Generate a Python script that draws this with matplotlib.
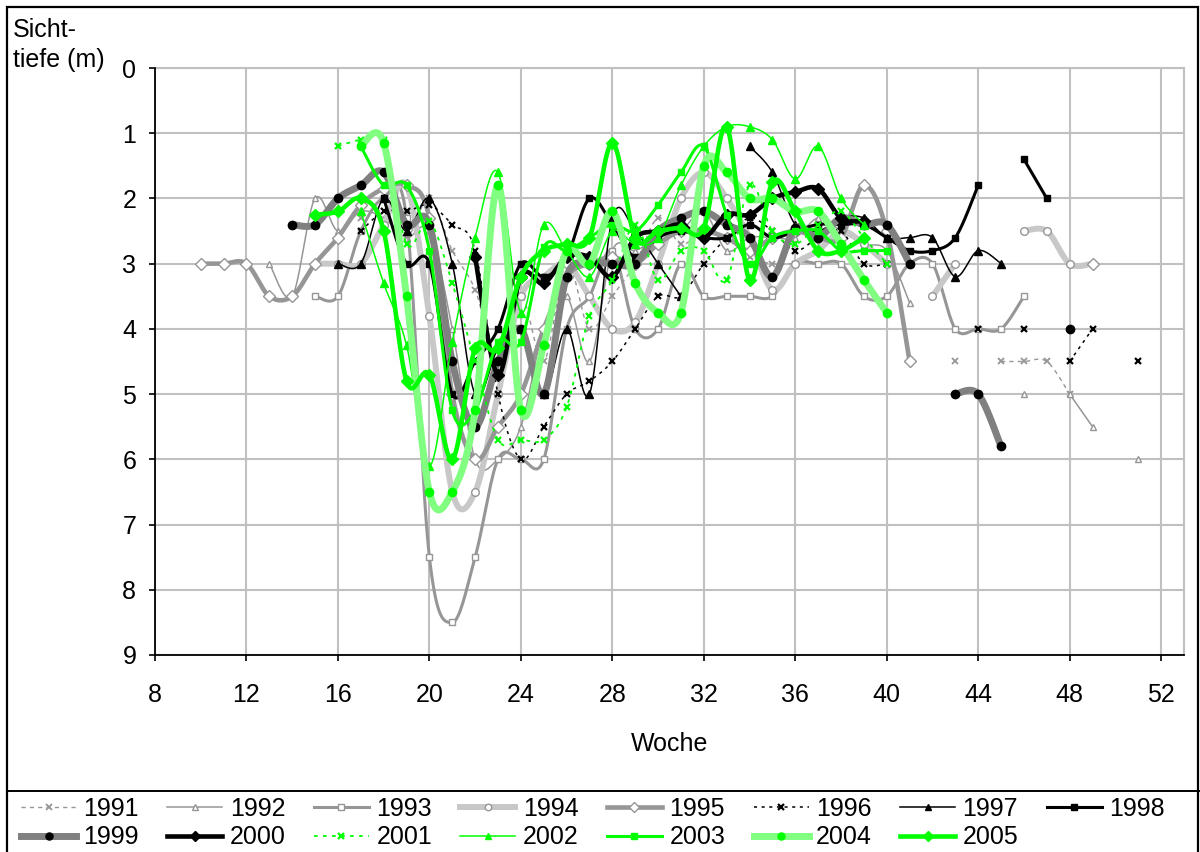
import numpy as np
import matplotlib
matplotlib.use("Agg")
import matplotlib.pyplot as plt
from matplotlib.lines import Line2D
from matplotlib.patches import Rectangle

plt.rcParams['font.family'] = ['Liberation Sans', 'DejaVu Sans']

# ---- data: week -> Sichttiefe (m) ----
d1991 = {17: 2.3, 18: 2.2, 19: 2.6, 20: 2.0, 21: 2.8, 22: 3.4, 23: 4.5, 24: 3.5, 25: 4.5, 26: 3.0,
         27: 4.0, 28: 3.5, 29: 3.0, 30: 2.3, 31: 2.7, 32: 2.5, 33: 2.6, 34: 2.9, 35: 3.0, 36: 3.0,
         43: 4.5, 45: 4.5, 46: 4.5, 47: 4.5, 48: 5.0}
d1992 = {13: 3.0, 14: 3.5, 15: 2.0, 16: 2.5, 17: 2.2, 18: 2.3, 19: 2.6, 20: 2.5, 21: 4.0, 22: 6.0,
         23: 6.0, 24: 5.5, 25: 4.0, 26: 3.5, 27: 4.5, 28: 2.8, 29: 2.8, 30: 2.6, 31: 2.5, 32: 2.2,
         33: 2.8, 34: 2.6, 35: 2.6, 36: 2.6, 37: 2.3, 38: 2.5, 39: 2.7, 40: 2.8, 41: 3.6,
         46: 5.0, 48: 5.0, 49: 5.5, 51: 6.0}
d1993 = {15: 3.5, 16: 3.5, 17: 2.5, 18: 2.0, 19: 2.3, 20: 7.5, 21: 8.5, 22: 7.5, 23: 6.0, 24: 6.0,
         25: 6.0, 26: 4.0, 27: 3.5, 28: 2.8, 29: 4.0, 30: 4.0, 31: 3.0, 32: 3.5, 33: 3.5, 34: 3.5,
         35: 3.5, 36: 3.0, 37: 3.0, 38: 3.0, 39: 3.5, 40: 3.5, 41: 3.0, 42: 3.0, 43: 4.0, 44: 4.0,
         45: 4.0, 46: 3.5}
d1994 = {15: 3.0, 16: 3.0, 17: 3.0, 18: 2.4, 19: 1.8, 20: 3.8, 21: 6.5, 22: 6.5, 23: 5.0, 24: 3.5,
         25: 3.2, 26: 3.0, 27: 3.5, 28: 4.0, 29: 3.9, 30: 3.0, 31: 2.0, 32: 1.6, 33: 2.0, 34: 2.6,
         35: 3.4, 36: 3.0, 37: 2.8, 38: 2.5, 39: 2.7, 40: 3.0,
         42: 3.5, 43: 3.0, 46: 2.5, 47: 2.5, 48: 3.0, 49: 3.0}
d1995 = {10: 3.0, 11: 3.0, 12: 3.0, 13: 3.5, 14: 3.5, 15: 3.0, 16: 2.6, 17: 2.1, 18: 1.85, 19: 1.8,
         20: 2.3, 21: 5.0, 22: 6.0, 23: 5.5, 24: 5.0, 25: 4.0, 26: 3.2, 27: 3.0, 28: 2.9, 29: 3.0,
         30: 2.7, 31: 2.5, 32: 2.5, 33: 2.6, 34: 2.8, 35: 2.6, 36: 2.5, 37: 2.6, 38: 2.6, 39: 1.8,
         40: 2.5, 41: 4.5, 49: 3.0}
d1996 = {17: 2.5, 18: 2.2, 19: 2.2, 20: 2.1, 21: 2.4, 22: 2.8, 23: 5.0, 24: 6.0, 25: 5.5, 26: 5.0,
         27: 4.8, 28: 4.5, 29: 4.0, 30: 3.5, 31: 3.5, 32: 3.0, 33: 2.6, 34: 2.3, 35: 2.5, 36: 2.8,
         37: 2.6, 38: 2.5, 39: 3.0, 40: 3.0, 44: 4.0, 46: 4.0, 48: 4.5, 49: 4.0, 51: 4.5}
d1997 = {16: 3.0, 17: 3.0, 18: 2.0, 19: 2.5, 20: 2.0, 21: 3.0, 22: 5.0, 23: 4.3, 24: 4.0, 25: 5.0,
         26: 4.0, 27: 5.0, 28: 2.3, 29: 2.5, 30: 3.0, 31: 3.5,
         34: 1.2, 35: 1.6, 36: 2.4, 37: 2.5, 38: 2.3, 39: 2.3, 40: 2.6, 41: 2.6, 42: 2.6, 43: 3.2,
         44: 2.8, 45: 3.0}
d1998 = {18: 2.0, 19: 3.0, 20: 3.0, 21: 5.0, 22: 4.5, 23: 4.0, 24: 3.0, 25: 3.2, 26: 2.9, 27: 2.0,
         28: 2.4, 29: 2.9, 30: 2.6, 31: 2.5, 32: 2.6, 33: 2.6, 34: 2.4, 35: 2.6, 36: 2.5, 37: 2.4,
         38: 2.4, 39: 2.4, 40: 2.6, 41: 2.8, 42: 2.8, 43: 2.6, 44: 1.8, 46: 1.4, 47: 2.0}
d1999 = {14: 2.4, 15: 2.4, 16: 2.0, 17: 1.8, 18: 1.6, 19: 2.4, 20: 2.4, 21: 4.5, 22: 5.5, 23: 4.5,
         24: 4.0, 25: 5.0, 26: 3.2, 27: 3.0, 28: 3.0, 29: 3.0, 30: 2.5, 31: 2.3, 32: 2.2, 33: 2.4,
         34: 2.6, 35: 3.2, 36: 2.45, 37: 2.6, 38: 2.3, 39: 2.4, 40: 2.4, 41: 3.0,
         43: 5.0, 44: 5.0, 45: 5.8, 48: 4.0}
d2000 = {22: 2.9, 23: 4.7, 24: 3.2, 25: 3.3, 26: 2.9, 27: 2.9, 28: 3.2, 29: 2.6, 30: 2.5, 31: 2.4,
         32: 2.6, 33: 2.25, 34: 2.25, 35: 2.0, 36: 1.9, 37: 1.85, 38: 2.3, 39: 2.35}
d2001 = {16: 1.2, 17: 1.1, 18: 1.1, 19: 2.7, 20: 2.35, 21: 3.3, 22: 4.5, 23: 5.7, 24: 5.7, 25: 5.7,
         26: 5.2, 27: 3.8, 28: 3.25, 29: 2.4, 30: 3.25, 31: 2.8, 32: 2.8, 33: 3.25, 34: 1.8, 35: 2.5,
         36: 2.7, 37: 2.4, 38: 2.2, 39: 2.6, 40: 3.0}
d2002 = {17: 2.2, 18: 3.3, 19: 4.25, 20: 6.1, 21: 4.2, 22: 2.6, 23: 1.6, 24: 3.75, 25: 2.4, 26: 2.8,
         27: 3.2, 28: 2.5, 29: 2.7, 30: 2.6, 31: 1.8, 32: 1.2, 33: 0.9, 34: 0.9, 35: 1.1, 36: 1.7,
         37: 1.2, 38: 2.0, 39: 2.4}
d2003 = {17: 1.2, 18: 1.8, 19: 1.8, 20: 2.8, 21: 5.25, 22: 5.25, 23: 4.2, 24: 4.2, 25: 2.75, 26: 2.8,
         27: 2.6, 28: 2.4, 29: 2.5, 30: 2.1, 31: 1.6, 32: 1.2, 33: 2.25, 34: 3.0, 35: 2.6, 36: 2.5,
         37: 2.5, 38: 2.8, 39: 2.8, 40: 2.8}
d2004 = {17: 1.2, 18: 1.15, 19: 3.5, 20: 6.5, 21: 6.5, 22: 5.25, 23: 1.8, 24: 5.25, 25: 4.25, 26: 2.8,
         27: 3.0, 28: 2.2, 29: 3.3, 30: 3.75, 31: 3.75, 32: 1.5, 33: 1.6, 34: 2.0, 35: 2.0, 36: 2.2,
         37: 2.2, 38: 2.7, 39: 3.25, 40: 3.75}
d2005 = {15: 2.25, 16: 2.2, 17: 2.0, 18: 2.5, 19: 4.8, 20: 4.7, 21: 6.0, 22: 4.3, 23: 4.3, 24: 3.2,
         25: 2.8, 26: 2.7, 27: 2.6, 28: 1.15, 29: 2.6, 30: 2.5, 31: 2.45, 32: 2.45, 33: 0.9, 34: 3.25,
         35: 1.75, 36: 2.2, 37: 2.8, 38: 2.8, 39: 2.6}

years = ['1991', '1992', '1993', '1994', '1995', '1996', '1997', '1998',
         '1999', '2000', '2001', '2002', '2003', '2004', '2005']
series = [d1991, d1992, d1993, d1994, d1995, d1996, d1997, d1998,
          d1999, d2000, d2001, d2002, d2003, d2004, d2005]

x_ticks = [8, 12, 16, 20, 24, 28, 32, 36, 40, 44, 48, 52]
y_ticks = [0, 1, 2, 3, 4, 5, 6, 7, 8, 9]

G40 = '#969696'
styles = [
    dict(color=G40, lw=1.0, ls=(0, (3, 3)), marker='x', ms=4.5, mfc=G40, mec=G40, mew=1.3),
    dict(color=G40, lw=1.1, ls='-', marker='^', ms=5, mfc='white', mec=G40, mew=1.0),
    dict(color=G40, lw=2.2, ls='-', marker='s', ms=5, mfc='white', mec=G40, mew=1.0),
    dict(color='#c8c8c8', lw=4.3, ls='-', marker='o', ms=5.5, mfc='white', mec=G40, mew=1.0),
    dict(color=G40, lw=3.3, ls='-', marker='D', ms=6, mfc='white', mec=G40, mew=1.0),
    dict(color='black', lw=1.1, ls=(0, (2, 3)), marker='x', ms=5, mfc='black', mec='black', mew=1.6),
    dict(color='black', lw=1.1, ls='-', marker='^', ms=5.5, mfc='black', mec='black', mew=1.0),
    dict(color='black', lw=2.2, ls='-', marker='s', ms=5, mfc='black', mec='black', mew=1.0),
    dict(color='#808080', lw=5.0, ls='-', marker='o', ms=6, mfc='black', mec='black', mew=1.0),
    dict(color='black', lw=3.3, ls='-', marker='D', ms=6, mfc='black', mec='black', mew=1.0),
    dict(color='#00ff00', lw=1.3, ls=(0, (2, 3)), marker='x', ms=5, mfc='#00ff00', mec='#00ff00', mew=1.6),
    dict(color='#00ff00', lw=1.1, ls='-', marker='^', ms=5.5, mfc='#00ff00', mec='#00ff00', mew=1.0),
    dict(color='#00ff00', lw=2.2, ls='-', marker='s', ms=5, mfc='#00ff00', mec='#00ff00', mew=1.0),
    dict(color='#80ff80', lw=5.0, ls='-', marker='o', ms=6, mfc='#00ff00', mec='#00ff00', mew=1.0),
    dict(color='#00ff00', lw=3.3, ls='-', marker='D', ms=6, mfc='#00ff00', mec='#00ff00', mew=1.0),
]


def segments(d):
    wk = sorted(d)
    segs, cur = [], [wk[0]]
    for w in wk[1:]:
        if w - cur[-1] == 1:
            cur.append(w)
        else:
            segs.append(cur)
            cur = [w]
    segs.append(cur)
    return segs


def smooth_curve(xs, ys, n=20):
    """Excel-like smoothed line (cubic Bezier, Catmull-Rom control points)."""
    p = np.column_stack([xs, ys]).astype(float)
    if len(p) < 2:
        return p[:, 0], p[:, 1]
    t = np.linspace(0, 1, n)[:, None]
    out = [p[:1]]
    for i in range(len(p) - 1):
        p0 = p[i - 1] if i > 0 else p[i]
        p1, p2 = p[i], p[i + 1]
        p3 = p[i + 2] if i + 2 < len(p) else p[i + 1]
        c1 = p1 + (p2 - p0) / 6.0
        c2 = p2 - (p3 - p1) / 6.0
        b = ((1 - t) ** 3) * p1 + 3 * ((1 - t) ** 2) * t * c1 + 3 * (1 - t) * t ** 2 * c2 + t ** 3 * p2
        out.append(b[1:])
    c = np.vstack(out)
    return c[:, 0], c[:, 1]


fig = plt.figure(figsize=(12, 8.52), dpi=100)
ax = fig.add_axes([155 / 1200, 1 - 655 / 852, (1184 - 155) / 1200, (655 - 68) / 852])

for k, (d, st) in enumerate(zip(series, styles)):
    z = 3 + k * 0.1
    for seg in segments(d):
        ys = [d[w] for w in seg]
        if len(seg) > 1:
            cx, cy = smooth_curve(seg, ys)
            ax.plot(cx, cy, color=st['color'], lw=st['lw'], ls=st['ls'],
                    solid_capstyle='round', solid_joinstyle='round', zorder=z)
        ax.plot(seg, ys, ls='none', marker=st['marker'], ms=st['ms'], mfc=st['mfc'],
                mec=st['mec'], mew=st['mew'], zorder=z + 0.05)

ax.set_xlim(8, 53)
ax.set_ylim(9, 0)
ax.set_xticks(x_ticks)
ax.set_yticks(y_ticks)
ax.set_xticklabels([str(v) for v in x_ticks])
ax.set_yticklabels([str(v) for v in y_ticks])
ax.tick_params(axis='both', labelsize=18, direction='out', length=4.5, width=1.2, color='black')
ax.tick_params(axis='y', pad=9)
ax.tick_params(axis='x', pad=16)
ax.grid(True, color='#c0c0c0', lw=1.5, zorder=0)
ax.set_axisbelow(True)
for s in ['top', 'right']:
    ax.spines[s].set_color('#c0c0c0')
    ax.spines[s].set_linewidth(1.5)
for s in ['left', 'bottom']:
    ax.spines[s].set_color('black')
    ax.spines[s].set_linewidth(1.3)
    ax.spines[s].set_zorder(10)

ax.set_xlabel('Woche', fontsize=18, labelpad=18)
fig.text(13 / 1200, 1 - 18 / 852, 'Sicht-\ntiefe (m)', fontsize=18, ha='left', va='top',
         linespacing=1.3)

# outer frame and legend separator
fig.add_artist(Rectangle((7 / 1200, -0.01), (1198 - 7) / 1200, 1.01 - 7 / 852,
                         transform=fig.transFigure, fill=False, lw=1.6, ec='black'))
fig.add_artist(Line2D([7 / 1200, 1], [1 - 791 / 852, 1 - 791 / 852], transform=fig.transFigure,
                      color='black', lw=1.4))

handles = []
for st in styles:
    handles.append(Line2D([], [], color=st['color'], lw=st['lw'], ls=st['ls'], marker=st['marker'],
                          ms=st['ms'] * 0.85, mfc=st['mfc'], mec=st['mec'], mew=st['mew']))
order = []
for i in range(8):
    order.append(i)
    if i + 8 < len(years):
        order.append(i + 8)
leg = fig.legend([handles[i] for i in order], [years[i] for i in order], ncol=8,
                 loc='upper left', bbox_to_anchor=(21 / 1200, 1 - 797 / 852),
                 frameon=False, fontsize=18, handlelength=2.2, handletextpad=0.3,
                 columnspacing=1.13, labelspacing=0.17, borderpad=0, borderaxespad=0,
                 numpoints=1)

fig.savefig('out.png', dpi=100)
